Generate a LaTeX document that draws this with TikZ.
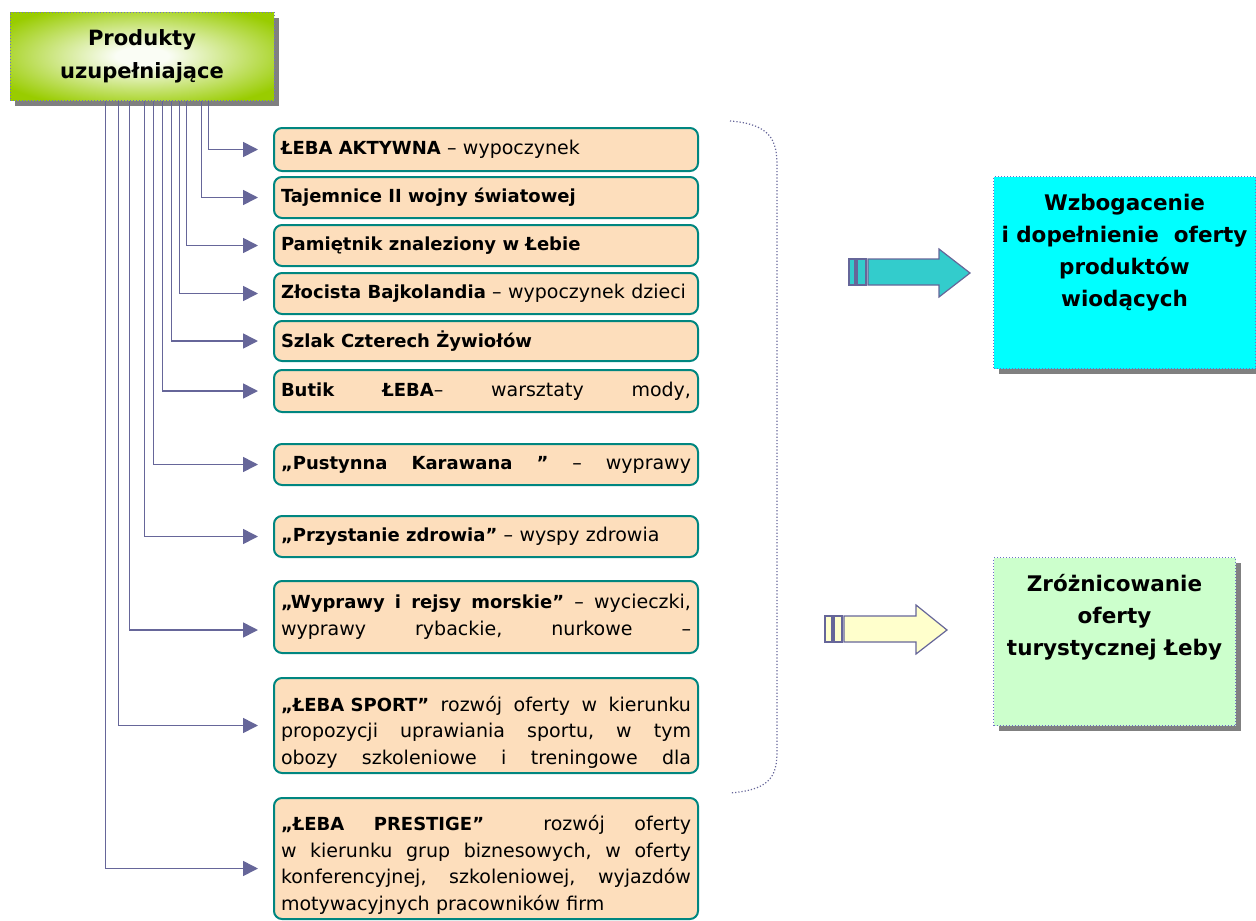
\documentclass[tikz,border=0pt]{standalone}
\usepackage{fontspec}
\setmainfont{DejaVu Sans}[BoldFeatures={Scale=0.947}]
\usetikzlibrary{arrows.meta,positioning,shadows}
\definecolor{hdrgreen}{RGB}{153,204,0}
\definecolor{hdrlight}{RGB}{250,253,245}
\definecolor{peach}{RGB}{253,222,188}
\definecolor{tealline}{RGB}{0,134,128}
\definecolor{linkblue}{RGB}{102,102,153}
\definecolor{dotblue}{RGB}{110,110,200}
\definecolor{aquafill}{RGB}{51,204,204}
\definecolor{aqua}{RGB}{0,255,255}
\definecolor{mintfill}{RGB}{204,255,204}
\definecolor{creamfill}{RGB}{255,255,204}
\pgfdeclareradialshading{hdrglow}{\pgfpoint{0bp}{0bp}}{color(0bp)=(hdrlight); color(5bp)=(hdrlight); color(31bp)=(hdrgreen); color(50bp)=(hdrgreen)}
\tikzset{
  offer/.style={draw=tealline, line width=2pt, fill=peach, rounded corners=8pt,
    text width=410pt, inner xsep=7pt, inner ysep=2pt, align=left, anchor=west,
    font=\fontsize{19}{26.5}\selectfont},
  link/.style={draw=linkblue, line width=1.6pt, -{Triangle[length=15pt,width=15pt]}, shorten >=15pt},
  goal/.style={draw=dotblue, dotted, line width=1pt, anchor=north west, inner sep=0pt,
    drop shadow={shadow xshift=5pt,shadow yshift=-5pt,fill=gray,opacity=1}},
  goaltext/.style={align=center, font=\bfseries\fontsize{22.7}{32}\selectfont},
  blockarrow/.style={draw=linkblue, line width=1.2pt}
}
\begin{document}
\begin{tikzpicture}[x=1pt,y=-1pt]
  \useasboundingbox (0,0) rectangle (1256,921);
  \node[draw=dotblue, dotted, line width=1pt, shading=hdrglow,
    minimum width=264pt, minimum height=88pt, inner sep=0pt, align=center,
    drop shadow={shadow xshift=5pt,shadow yshift=-6pt,fill=gray,opacity=1},
    font=\bfseries\fontsize{22.2}{33}\selectfont] (hdr) at (142,56) {Produkty\\uzupełniające};

  \node[offer, minimum height=43pt] (b1) at (273,149.5) {\textbf{ŁEBA AKTYWNA} – wypoczynek};
  \node[offer, minimum height=41pt] (b2) at (273,197.5) {\textbf{Tajemnice II wojny światowej}};
  \node[offer, minimum height=41pt] (b3) at (273,245.5) {\textbf{Pamiętnik znaleziony w Łebie}};
  \node[offer, minimum height=41pt] (b4) at (273,293.5) {\textbf{Złocista Bajkolandia} – wypoczynek dzieci};
  \node[offer, minimum height=40pt] (b5) at (273,341) {\textbf{Szlak Czterech Żywiołów}};
  \node[offer, minimum height=42pt] (b6) at (273,391) {\textbf{Butik}\hfill\textbf{ŁEBA}–\hfill warsztaty\hfill mody,};
  \node[offer, minimum height=41pt] (b7) at (273,464.5) {\textbf{„Pustynna}\hfill\textbf{Karawana}\hfill\textbf{”}\hfill–\hfill wyprawy};
  \node[offer, minimum height=41pt] (b8) at (273,536.5) {\textbf{„Przystanie zdrowia”} – wyspy zdrowia};
  \node[offer, minimum height=72pt] (b9) at (273,617) {\textbf{„Wyprawy}\hfill\textbf{i}\hfill\textbf{rejsy}\hfill\textbf{morskie”}\hfill–\hfill wycieczki,\\
    wyprawy\hfill rybackie,\hfill nurkowe\hfill –};
  \node[offer, minimum height=95pt] (b10) at (273,725.5) {\rule{0pt}{28pt}\textbf{„ŁEBA SPORT”}\hfill rozwój\hfill oferty\hfill w\hfill kierunku\\
    propozycji\hfill uprawiania\hfill sportu,\hfill w\hfill tym\\
    obozy\hfill szkoleniowe\hfill i\hfill treningowe\hfill dla};
  \node[offer, minimum height=121pt] (b11) at (273,858.5) {\rule{0pt}{28pt}\textbf{„ŁEBA}\hfill\textbf{PRESTIGE”}\hfill\hfill rozwój\hfill oferty\\
    w\hfill kierunku\hfill grup\hfill biznesowych,\hfill w\hfill oferty\\
    konferencyjnej,\hfill szkoleniowej,\hfill wyjazdów\\
    motywacyjnych pracowników firm};

  \begin{scope}[link]
    \draw ([xshift=199pt]hdr.south west) |- (b1.west);
    \draw ([xshift=192pt]hdr.south west) |- (b2.west);
    \draw ([xshift=177pt]hdr.south west) |- (b3.west);
    \draw ([xshift=170pt]hdr.south west) |- (b4.west);
    \draw ([xshift=162pt]hdr.south west) |- (b5.west);
    \draw ([xshift=153pt]hdr.south west) |- (b6.west);
    \draw ([xshift=144pt]hdr.south west) |- (b7.west);
    \draw ([xshift=135pt]hdr.south west) |- (b8.west);
    \draw ([xshift=120pt]hdr.south west) |- ([yshift=-13pt]b9.west);
    \draw ([xshift=109pt]hdr.south west) |- (b10.west);
    \draw ([xshift=96pt]hdr.south west) |- ([yshift=-10pt]b11.west);
  \end{scope}

  \draw[linkblue, dotted, line width=1.2pt] (730,121) .. controls (770,124) and (777,140) .. (777,165)
    -- (777,752) .. controls (777,778) and (768,790) .. (730,793);

  \draw[blockarrow, fill=aquafill] (849,259) rectangle (855,285);
  \draw[blockarrow, fill=aquafill] (857,259) rectangle (866,285);
  \draw[blockarrow, fill=aquafill] (868,259) -- (939,259) -- (939,249) -- (970,273)
    -- (939,297) -- (939,285) -- (868,285) -- cycle;
  \draw[blockarrow, fill=creamfill] (825,616) rectangle (832,642);
  \draw[blockarrow, fill=creamfill] (834,616) rectangle (842,642);
  \draw[blockarrow, fill=creamfill] (844,616) -- (916,616) -- (916,605) -- (947,630)
    -- (916,654) -- (916,642) -- (844,642) -- cycle;

  \node[goal, fill=aqua, minimum width=262pt, minimum height=192pt] (gain) at (993,176) {};
  \node[goaltext, below=15pt of gain.north] (gaintext) {Wzbogacenie\\i dopełnienie~~oferty\\produktów\\wiodących};
  \node[goal, fill=mintfill, minimum width=242pt, minimum height=168pt] (range) at (993,557) {};
  \node[goaltext, below=14pt of range.north] (rangetext) {Zróżnicowanie\\oferty\\turystycznej Łeby};
\end{tikzpicture}
\end{document}
